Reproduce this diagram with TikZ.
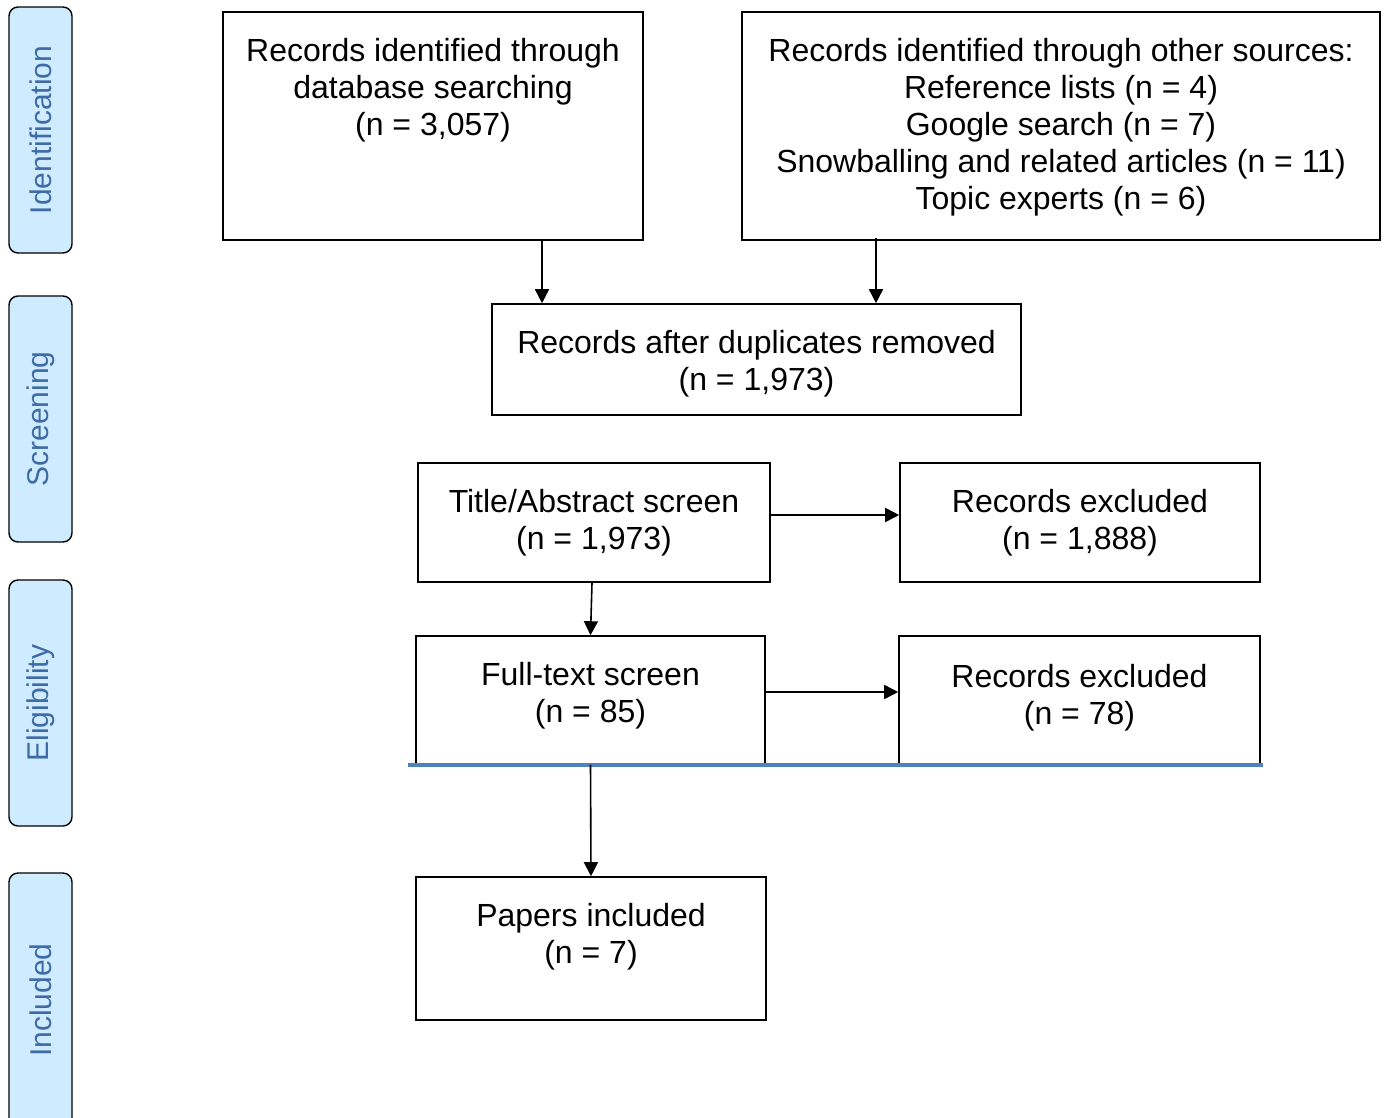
\documentclass[tikz,border=0pt]{standalone}
\usepackage{fontspec}
\setmainfont{Liberation Sans}
\usetikzlibrary{arrows.meta}
\definecolor{sidefill}{RGB}{206,235,255}
\definecolor{sidetext}{RGB}{62,106,165}
\definecolor{rulecol}{RGB}{79,129,189}
\tikzset{
  box/.style={draw, line width=1.6pt, inner sep=0pt},
  txt/.style={align=center, inner sep=0pt, anchor=north, font=\fontsize{32}{37}\selectfont},
  phase/.style={draw, line width=1.4pt, fill=sidefill, rounded corners=9pt, rotate=90,
    minimum height=63pt, text=sidetext, font=\fontsize{30}{34}\selectfont},
  arr/.style={line width=1.6pt, -{Triangle[length=14pt,width=14pt]}}
}

\begin{document}
\begin{tikzpicture}[x=1pt, y=-1pt]
			%%%%% START %%%%%
			\clip (0,0) rectangle (1386,1117);
			
			% phases on the left
			\node[phase, minimum width=246pt] (ident) at (40.5,130) {Identification};
			\node[phase, minimum width=246pt] (screen) at (40.5,419) {Screening};
			\node[phase, minimum width=246pt] (elig) at (40.5,703) {Eligibility};
			\node[phase, minimum width=254pt] (incl) at (40.5,1000) {Included};
			
			% boxes
			\node[box, minimum width=420pt, minimum height=228pt] (dbase) at (433,126) {};
			\node[box, minimum width=638pt, minimum height=228pt] (other) at (1061,126) {};
			\node[box, minimum width=529pt, minimum height=111pt] (dupl) at (756.5,359.5) {};
			\node[box, minimum width=352pt, minimum height=119pt] (tiabs) at (594,522.5) {};
			\node[box, minimum width=360pt, minimum height=119pt] (excla) at (1080,522.5) {};
			\node[box, minimum width=349pt, minimum height=128pt] (fullt) at (590.5,700) {};
			\node[box, minimum width=361pt, minimum height=128pt] (exclb) at (1079.5,700) {};
			\node[box, minimum width=350pt, minimum height=143pt] (incd) at (591,948.5) {};
			
			% texts
			\node[txt] (dbasetxt) at ([yshift=-24.6pt]dbase.north) {\strut Records identified through\\database searching\\(n = 3,057)};
			\node[txt] (othertxt) at ([yshift=-24.6pt]other.north) {\strut Records identified through other sources:\\Reference lists (n = 4)\\Google search (n = 7)\\Snowballing and related articles (n = 11)\\Topic experts (n = 6)};
			\node[txt] (dupltxt) at ([yshift=-24.6pt]dupl.north) {\strut Records after duplicates removed\\(n = 1,973)};
			\node[txt] (tiabstxt) at ([yshift=-24.6pt]tiabs.north) {\strut Title/Abstract screen\\(n = 1,973)};
			\node[txt] (exclatxt) at ([yshift=-24.6pt]excla.north) {\strut Records excluded\\(n = 1,888)};
			\node[txt] (fullttxt) at ([yshift=-24.6pt]fullt.north) {\strut Full-text screen\\(n = 85)};
			\node[txt] (exclbtxt) at ([yshift=-26.6pt]exclb.north) {\strut Records excluded\\(n = 78)};
			\node[txt] (incdtxt) at ([yshift=-24.6pt]incd.north) {\strut Papers included\\(n = 7)};
			
			% blue rule under the eligibility row
			\draw[line width=4.5pt, color=rulecol] ([xshift=-7pt]fullt.south west) -- ([xshift=2pt]exclb.south east);
			
			% arrows
			\draw[arr] ([xshift=109pt]dbase.south) -- ([xshift=-214.5pt]dupl.north);
			\draw[arr] ([xshift=-185pt,yshift=3pt]other.south) -- ([xshift=119.5pt]dupl.north);
			\draw[arr] ([yshift=7.5pt]tiabs.east) -- ([yshift=7.5pt]excla.west);
			\draw[arr] ([xshift=-2pt]tiabs.south) -- (fullt.north);
			\draw[arr] ([yshift=8pt]fullt.east) -- ([yshift=8pt]exclb.west);
			\draw[arr] (fullt.south) -- (incd.north);
			
			%%%%% END %%%%%
\end{tikzpicture}
\end{document}
